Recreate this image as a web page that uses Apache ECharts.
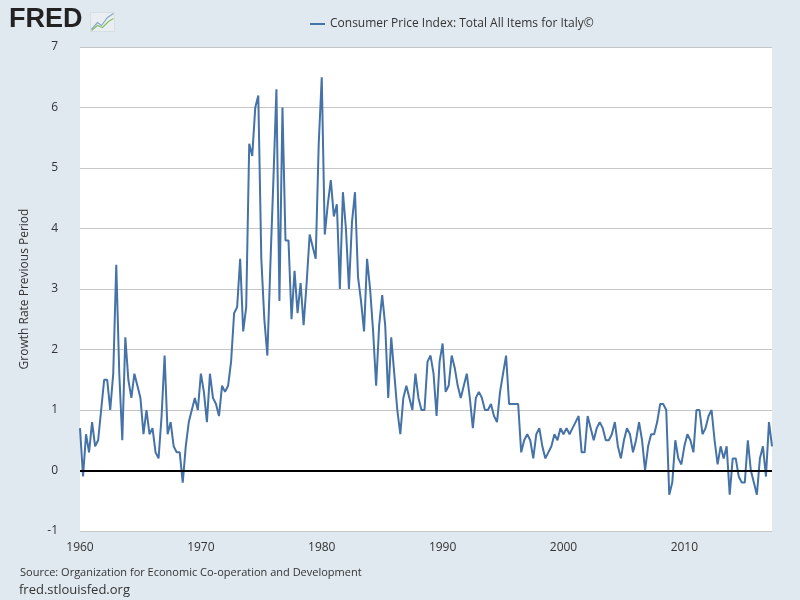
<!DOCTYPE html>
<html>
<head>
<meta charset="utf-8">
<script src="https://cdn.jsdelivr.net/npm/echarts@6/dist/echarts.min.js"></script>
<style>
html,body{margin:0;padding:0;background:#e1e9f0;}
#chart{width:800px;height:600px;}
</style>
</head>
<body>
<div id="chart"></div>
<script>
// Quarterly growth rate (previous period), 1960Q1 .. 2017Q2
const startYear = 1960;
const seriesName = 'Consumer Price Index: Total All Items for Italy\u00A9';
const cpiGrowth = [
  0.7, -0.1, 0.6, 0.3,   // 1960
  0.8, 0.4, 0.5, 1.0,    // 1961
  1.5, 1.5, 1.0, 1.6,    // 1962
  3.4, 1.6, 0.5, 2.2,    // 1963
  1.5, 1.2, 1.6, 1.4,    // 1964
  1.2, 0.6, 1.0, 0.6,    // 1965
  0.7, 0.3, 0.2, 0.9,    // 1966
  1.9, 0.6, 0.8, 0.4,    // 1967
  0.3, 0.3, -0.2, 0.4,   // 1968
  0.8, 1.0, 1.2, 1.0,    // 1969
  1.6, 1.3, 0.8, 1.6,    // 1970
  1.2, 1.1, 0.9, 1.4,    // 1971
  1.3, 1.4, 1.8, 2.6,    // 1972
  2.7, 3.5, 2.3, 2.7,    // 1973
  5.4, 5.2, 6.0, 6.2,    // 1974
  3.5, 2.5, 1.9, 3.4,    // 1975
  4.8, 6.3, 2.8, 6.0,    // 1976
  3.8, 3.8, 2.5, 3.3,    // 1977
  2.6, 3.1, 2.4, 3.1,    // 1978
  3.9, 3.7, 3.5, 5.4,    // 1979
  6.5, 3.9, 4.4, 4.8,    // 1980
  4.2, 4.4, 3.0, 4.6,    // 1981
  4.0, 3.0, 4.1, 4.6,    // 1982
  3.2, 2.8, 2.3, 3.5,    // 1983
  3.0, 2.3, 1.4, 2.4,    // 1984
  2.9, 2.4, 1.2, 2.2,    // 1985
  1.6, 1.0, 0.6, 1.2,    // 1986
  1.4, 1.2, 1.0, 1.6,    // 1987
  1.2, 1.0, 1.0, 1.8,    // 1988
  1.9, 1.6, 0.9, 1.8,    // 1989
  2.1, 1.3, 1.4, 1.9,    // 1990
  1.7, 1.4, 1.2, 1.4,    // 1991
  1.6, 1.2, 0.7, 1.2,    // 1992
  1.3, 1.2, 1.0, 1.0,    // 1993
  1.1, 0.9, 0.8, 1.3,    // 1994
  1.6, 1.9, 1.1, 1.1,    // 1995
  1.1, 1.1, 0.3, 0.5,    // 1996
  0.6, 0.5, 0.2, 0.6,    // 1997
  0.7, 0.4, 0.2, 0.3,    // 1998
  0.4, 0.6, 0.5, 0.7,    // 1999
  0.6, 0.7, 0.6, 0.7,    // 2000
  0.8, 0.9, 0.3, 0.3,    // 2001
  0.9, 0.7, 0.5, 0.7,    // 2002
  0.8, 0.7, 0.5, 0.5,    // 2003
  0.6, 0.8, 0.4, 0.2,    // 2004
  0.5, 0.7, 0.6, 0.3,    // 2005
  0.5, 0.8, 0.5, 0.0,    // 2006
  0.4, 0.6, 0.6, 0.8,    // 2007
  1.1, 1.1, 1.0, -0.4,   // 2008
  -0.2, 0.5, 0.2, 0.1,   // 2009
  0.4, 0.6, 0.5, 0.3,    // 2010
  1.0, 1.0, 0.6, 0.7,    // 2011
  0.9, 1.0, 0.5, 0.1,    // 2012
  0.4, 0.2, 0.4, -0.4,   // 2013
  0.2, 0.2, -0.1, -0.2,  // 2014
  -0.2, 0.5, 0.0, -0.2,  // 2015
  -0.4, 0.2, 0.4, -0.1,  // 2016
  0.8, 0.4               // 2017
];
const xTickLabels = ['1960', '1970', '1980', '1990', '2000', '2010'];
const yTickMin = -1, yTickMax = 7, yTickStep = 1;

const quarters = cpiGrowth.map((_, i) => (startYear + Math.floor(i / 4)) + 'Q' + (i % 4 + 1));

const chart = echarts.init(document.getElementById('chart'), null, {renderer: 'canvas'});
const txt = '#333333';
chart.setOption({
  backgroundColor: '#e1e9f0',
  animation: false,
  textStyle: {fontFamily: '"Open Sans", sans-serif'},
  legend: {
    data: [{name: seriesName, icon: 'rect'}],
    top: 13,
    left: 305,
    itemWidth: 15,
    itemHeight: 2,
    itemGap: 6,
    textStyle: {color: txt, fontSize: 12, fontFamily: '"Open Sans", sans-serif'}
  },
  grid: {
    left: 80, right: 28, top: 47, bottom: 69,
    show: true, backgroundColor: '#ffffff', borderWidth: 0,
    containLabel: false
  },
  xAxis: {
    type: 'category',
    data: quarters,
    boundaryGap: false,
    axisLine: {show: false},
    axisTick: {show: false},
    splitLine: {show: false},
    axisLabel: {
      color: txt, fontSize: 12, margin: 11,
      interval: (idx, val) => val.endsWith('Q1') && xTickLabels.includes(val.slice(0, 4)),
      formatter: (val) => val.slice(0, 4)
    }
  },
  yAxis: {
    type: 'value',
    min: yTickMin, max: yTickMax, interval: yTickStep,
    name: 'Growth Rate Previous Period',
    nameLocation: 'middle',
    nameRotate: 90,
    nameGap: 49,
    nameTextStyle: {color: txt, fontSize: 12},
    axisLine: {show: false},
    axisTick: {show: false},
    axisLabel: {color: txt, fontSize: 12, margin: 22},
    splitLine: {lineStyle: {color: '#c6c6c6', width: 1}}
  },
  series: [{
    name: seriesName,
    type: 'line',
    data: cpiGrowth,
    showSymbol: false,
    symbol: 'none',
    lineStyle: {color: '#4572a7', width: 2},
    itemStyle: {color: '#4572a7'},
    markLine: {
      silent: true,
      symbol: 'none',
      label: {show: false},
      lineStyle: {color: '#000000', width: 2, type: 'solid'},
      data: [{yAxis: 0}]
    },
    z: 3
  }],
  graphic: [
    {
      type: 'text', left: 9, top: 6,
      style: {text: 'FRED', font: '900 27px "Liberation Sans", Arial, sans-serif', fill: '#222222'}
    },
    {
      type: 'group', left: 89, top: 11,
      children: [
        {type: 'rect', shape: {x: 0, y: 0, width: 24, height: 19}, style: {fill: '#e8eef2', stroke: '#c8d2d8', lineWidth: 0.5}},
        {type: 'polyline', shape: {points: [[1, 17], [7, 10], [11, 13], [17, 5], [23, 1]]}, style: {stroke: '#8aa8c4', lineWidth: 1.2, fill: null}},
        {type: 'polyline', shape: {points: [[1, 18], [7, 13], [12, 15], [18, 9], [23, 6]]}, style: {stroke: '#8bbf6a', lineWidth: 1.2, fill: null}}
      ]
    },
    {
      type: 'text', left: 20, top: 567,
      style: {text: 'Source: Organization for Economic Co-operation and Development', font: '11px "Open Sans", sans-serif', fill: txt}
    },
    {
      type: 'text', left: 19, top: 584,
      style: {text: 'fred.stlouisfed.org', font: '13px "Open Sans", sans-serif', fill: txt}
    }
  ]
});
</script>
</body>
</html>
